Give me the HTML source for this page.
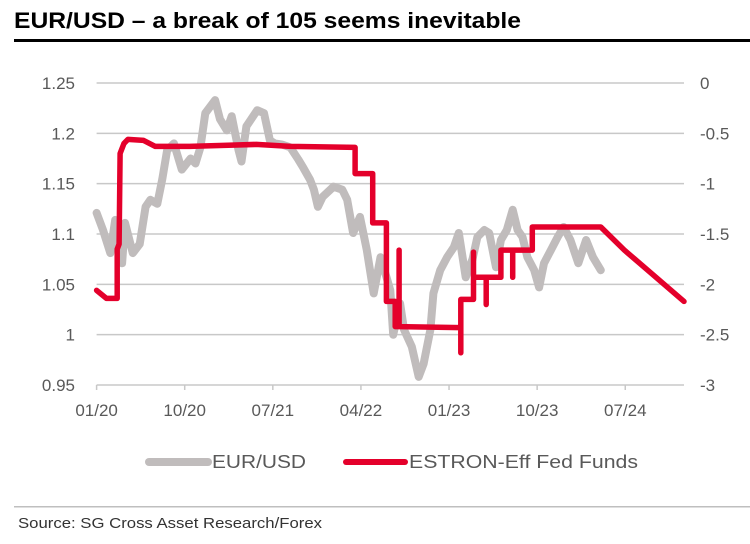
<!DOCTYPE html>
<html><head><meta charset="utf-8"><style>
html,body{margin:0;padding:0;background:#fff;}
svg{display:block;font-family:"Liberation Sans",Arial,sans-serif;}
</style></head><body>
<svg id="chart" width="750" height="544" viewBox="0 0 750 544">
<text x="14" y="28" font-size="22" font-weight="bold" fill="#000" textLength="507" lengthAdjust="spacingAndGlyphs">EUR/USD – a break of 105 seems inevitable</text>
<rect x="14" y="39" width="736" height="3" fill="#000"/>
<g id="grid"></g>
<g id="axes"></g>
<g id="series"></g>
<g>
<line x1="149" y1="462" x2="208" y2="462" stroke="#c0bcbc" stroke-width="8" stroke-linecap="round"/>
<text x="212" y="468" font-size="18" fill="#595959" textLength="94" lengthAdjust="spacingAndGlyphs">EUR/USD</text>
<line x1="346" y1="462" x2="405" y2="462" stroke="#e4002b" stroke-width="6" stroke-linecap="round"/>
<text x="409" y="468" font-size="18" fill="#595959" textLength="229" lengthAdjust="spacingAndGlyphs">ESTRON-Eff Fed Funds</text>
</g>
<rect x="14" y="506" width="736" height="1.5" fill="#bfbfbf"/>
<text x="18" y="528" font-size="15" fill="#333" textLength="304" lengthAdjust="spacingAndGlyphs">Source: SG Cross Asset Research/Forex</text>
</svg>
<script>
const leftTicks=[1.25,1.2,1.15,1.1,1.05,1,0.95];
const leftTickLabels=["1.25","1.2","1.15","1.1","1.05","1","0.95"];
const rightTicks=[0,-0.5,-1,-1.5,-2,-2.5,-3];
const rightTickLabels=["0","-0.5","-1","-1.5","-2","-2.5","-3"];
const xTickMonths=[0,9,18,27,36,45,54];
const xTickLabels=["01/20","10/20","07/21","04/22","01/23","10/23","07/24"];
const eurMonths=[0,0.65,1.4,1.9,2.6,2.9,3.7,4.4,5,5.5,6.2,6.7,7.2,7.9,8.7,9.6,10.1,10.6,11.1,12.1,12.6,13.3,13.8,14.5,14.8,15.3,16.4,17.1,17.7,18.2,18.9,19.8,20.6,21.1,21.8,22.2,22.6,23.1,24.2,25.1,25.6,26.2,26.9,27.6,28.3,29,29.7,30,30.3,31,31.4,32.2,32.9,33.4,34.1,34.4,35.1,35.8,36.5,37,37.7,38.4,38.9,39.6,40.1,40.8,41.3,41.9,42.5,43,43.5,44,44.7,45.2,45.7,46.4,47.1,47.7,48.4,49.2,50,50.7,51.5];
const eurValues=[1.121,1.104,1.081,1.114,1.071,1.111,1.081,1.09,1.127,1.134,1.13,1.154,1.183,1.19,1.164,1.175,1.17,1.186,1.22,1.233,1.214,1.203,1.217,1.183,1.172,1.207,1.223,1.22,1.193,1.19,1.189,1.186,1.174,1.166,1.154,1.144,1.127,1.137,1.147,1.144,1.134,1.101,1.117,1.084,1.041,1.077,1.054,1.044,1.0,1.031,1.005,0.988,0.958,0.971,1.005,1.041,1.064,1.077,1.087,1.101,1.057,1.075,1.097,1.104,1.101,1.067,1.094,1.104,1.124,1.104,1.097,1.077,1.064,1.047,1.071,1.084,1.097,1.107,1.094,1.071,1.094,1.077,1.064];
const rateMonths=[0,0.5,1,2.1,2.1,2.3,2.4,2.8,3.2,4.8,6,9.5,13,16.3,19.8,26.4,26.4,28.2,28.2,29.6,29.6,30.5,30.5,30.9,30.9,30.9,37.2,37.2,37.2,38.5,38.5,38.5,39.8,39.8,39.8,41.3,41.3,42.5,42.5,42.5,44.5,44.5,51.5,53.9,60];
const rateValues=[-2.06,-2.1,-2.14,-2.14,-1.65,-1.6,-0.7,-0.6,-0.56,-0.57,-0.63,-0.63,-0.62,-0.61,-0.63,-0.64,-0.9,-0.9,-1.39,-1.39,-2.17,-2.17,-2.42,-2.42,-1.66,-2.42,-2.43,-2.68,-2.15,-2.15,-1.68,-1.93,-1.93,-2.2,-1.93,-1.93,-1.66,-1.66,-1.93,-1.66,-1.66,-1.43,-1.43,-1.66,-2.17];

const X0=96.6,X1=684,Y0=83,Y1=385,MAXM=60;
const xs=m=>X0+(X1-X0)*m/MAXM;
const yL=v=>Y0+(1.25-v)/0.3*(Y1-Y0);
const yR=v=>Y0+(0-v)/3*(Y1-Y0);
const NS="http://www.w3.org/2000/svg";
function mk(tag,attrs,parent){const e=document.createElementNS(NS,tag);for(const k in attrs)e.setAttribute(k,attrs[k]);parent.appendChild(e);return e;}
const grid=document.getElementById('grid'),axes=document.getElementById('axes'),series=document.getElementById('series');
leftTicks.forEach((v,i)=>{
  const y=yL(v);
  if(i<leftTicks.length-1){const g=mk('line',{x1:X0,x2:X1,y1:y,y2:y,stroke:'#c8c8c8','stroke-width':1.5},grid);
  
  }
  const t=mk('text',{x:75,y:y+6,'font-size':17,fill:'#595959','text-anchor':'end'},axes);t.textContent=leftTickLabels[i];
  
  
});
rightTicks.forEach((v,i)=>{
  const t=mk('text',{x:700,y:yR(v)+6,'font-size':17,fill:'#595959'},axes);t.textContent=rightTickLabels[i];
  
  
});
const ax=mk('line',{x1:X0,x2:X1,y1:Y1,y2:Y1,stroke:'#c8c8c8','stroke-width':1.5},axes);


xTickMonths.forEach((m,i)=>{
  const x=xs(m);
  const tk=mk('line',{x1:x,x2:x,y1:Y1,y2:Y1+5,stroke:'#c8c8c8','stroke-width':1.5},axes);
  
  
  const t=mk('text',{x:x,y:Y1+31,'font-size':17,fill:'#595959','text-anchor':'middle'},axes);t.textContent=xTickLabels[i];
  
  
});
const eurPts=eurMonths.map((m,i)=>xs(m).toFixed(1)+','+yL(eurValues[i]).toFixed(1)).join(' ');
const eur=mk('polyline',{points:eurPts,fill:'none',stroke:'#c0bcbc','stroke-width':8,'stroke-linejoin':'round','stroke-linecap':'round'},series);


const ratePts=rateMonths.map((m,i)=>xs(m).toFixed(1)+','+yR(rateValues[i]).toFixed(1)).join(' ');
const rate=mk('polyline',{points:ratePts,fill:'none',stroke:'#e4002b','stroke-width':5.5,'stroke-linejoin':'round','stroke-linecap':'round'},series);


</script>
</body></html>
